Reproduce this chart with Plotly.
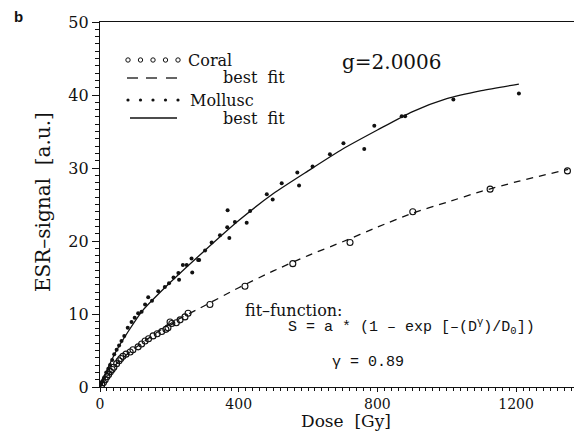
import plotly.graph_objects as go

# ---------------- data ----------------
coral_dose = [5, 10, 15, 20, 25, 30, 35, 40, 48, 55, 60, 66, 75, 87, 95, 110, 120, 130, 140,
              153, 165, 178, 190, 196, 202, 207, 220, 231, 245, 254,
              317, 418, 556, 721, 902, 1125, 1348]
coral_signal = [0.3, 0.6, 1.0, 1.4, 1.7, 2.1, 2.4, 2.7, 3.2, 3.6, 3.9, 4.2, 4.5, 4.8, 5.1, 5.5, 5.9, 6.3, 6.6,
                7.0, 7.3, 7.6, 7.9, 8.1, 8.9, 8.7, 8.8, 9.2, 9.6, 10.1,
                11.3, 13.8, 16.9, 19.8, 24.0, 27.1, 29.6]

mollusc_dose = [3, 8, 12, 18, 24, 29, 35, 41, 48, 55, 62, 70, 80, 91, 100, 110, 120, 130, 139, 150,
                168, 187, 199, 212, 226, 228, 239, 250, 264, 266, 283, 286, 303, 322, 346, 367,
                368, 373, 389, 423, 433, 481, 498, 524, 569, 574, 613, 663, 702, 762, 791, 870,
                880, 1019, 1208]
mollusc_signal = [0.3, 0.8, 1.3, 2.0, 2.5, 3.0, 3.7, 4.5, 5.1, 5.7, 6.3, 7.0, 8.1, 8.9, 9.5, 10.1, 10.3,
                  11.3, 12.3, 11.8, 13.1, 13.7, 14.2, 15.0, 15.6, 14.7, 16.7, 16.7, 17.6, 15.7, 17.4,
                  17.4, 18.7, 19.8, 20.8, 21.9, 24.2, 20.4, 22.6, 22.5, 24.1, 26.4, 25.7, 27.9, 29.4,
                  27.6, 30.2, 31.9, 33.4, 32.6, 35.8, 37.1, 37.1, 39.4, 40.2]

# best-fit curves, points
coral_fit_dose = [0, 50, 100, 200, 300, 400, 500, 600, 700, 800, 900, 1000, 1100, 1200, 1350]
coral_fit_signal = [0, 3.3, 5.3, 8.6, 11.1, 13.6, 15.9, 18.0, 19.9, 21.9, 23.8, 25.3, 26.8, 28.1, 29.8]
mollusc_fit_dose = [0, 20, 50, 120, 200, 300, 400, 500, 600, 700, 800, 900, 1000, 1100, 1208]
mollusc_fit_signal = [0, 2.3, 5.2, 10.3, 14.2, 18.6, 22.8, 26.5, 29.6, 32.6, 35.2, 37.7, 39.5, 40.6, 41.5]

x_ticks = [0, 400, 800, 1200]
y_ticks = [0, 10, 20, 30, 40, 50]

# ---------------- layout helpers ----------------
OFF = 8                      # page body margin of the html page
W, H = 582 - OFF, 433 - OFF
# plot area in page pixels
L, R, T, B = 100, 582, 22, 387


def px(x):
    return (x - L) / (R - L)


def py(y):
    return (B - y) / (B - T)


SERIF = "DejaVu Serif"
MONO = "Liberation Mono"
BLACK = "#111111"

fig = go.Figure()

fig.add_trace(go.Scatter(x=mollusc_fit_dose, y=mollusc_fit_signal, mode="lines",
                         line=dict(color=BLACK, width=1.3, shape="spline", smoothing=0.6),
                         showlegend=False))
fig.add_trace(go.Scatter(x=coral_fit_dose, y=coral_fit_signal, mode="lines",
                         line=dict(color=BLACK, width=1.3, dash="7px,6px", shape="spline", smoothing=0.6),
                         showlegend=False))
fig.add_trace(go.Scatter(x=coral_dose, y=coral_signal, mode="markers",
                         marker=dict(symbol="circle-open", size=6, color=BLACK,
                                     line=dict(width=1.1, color=BLACK)), showlegend=False))
fig.add_trace(go.Scatter(x=mollusc_dose, y=mollusc_signal, mode="markers",
                         marker=dict(symbol="circle", size=4, color=BLACK), showlegend=False))

shapes = []
# legend samples
for i in range(5):
    cx = 128 + i * 12.5
    shapes.append(dict(type="circle", xref="paper", yref="paper",
                       x0=px(cx - 2.2), x1=px(cx + 2.2), y0=py(60 + 2.2), y1=py(60 - 2.2),
                       line=dict(color=BLACK, width=1)))
    shapes.append(dict(type="circle", xref="paper", yref="paper",
                       x0=px(cx - 1.6), x1=px(cx + 1.6), y0=py(100 + 1.6), y1=py(100 - 1.6),
                       fillcolor=BLACK, line=dict(color=BLACK, width=0)))
for x0, x1 in [(127, 138), (146, 157), (166, 177)]:
    shapes.append(dict(type="line", xref="paper", yref="paper",
                       x0=px(x0), x1=px(x1), y0=py(78), y1=py(78),
                       line=dict(color=BLACK, width=1.3)))
shapes.append(dict(type="line", xref="paper", yref="paper",
                   x0=px(130), x1=px(177), y0=py(118), y1=py(118),
                   line=dict(color=BLACK, width=1.3)))


def ann(text, x, y, size, family=SERIF, xanchor="left", textangle=0, pad=1):
    return dict(text=text, xref="paper", yref="paper", x=px(x), y=py(y),
                xanchor=xanchor, yanchor="middle", showarrow=False, textangle=textangle,
                borderpad=pad,
                font=dict(family=family, size=size, color=BLACK))


annotations = [
    ann("Coral", 186, 60, 16),
    ann("best  fit", 221, 77, 16),
    ann("Mollusc", 188, 100, 16),
    ann("best  fit", 221, 118, 16),
    ann("g=2.0006", 340, 62, 20),
    ann("fit\u2013function:", 243, 310, 16),
    ann("S = a * (1 \u2013 exp [\u2013(D<sup>\u03b3</sup>)/D<sub>0</sub>])", 286, 326, 15, MONO),
    ann("\u03b3 = 0.89", 330, 362, 15, MONO),
    ann("Dose  [Gy]", 346, 421, 17, xanchor="center", pad=0),
    ann("ESR\u2013signal  [a.u.]", 43, 202, 20, xanchor="center", textangle=-90),
    dict(text="<b>b</b>", xref="paper", yref="paper", x=px(12), y=py(16),
         xanchor="left", yanchor="middle", showarrow=False,
         font=dict(family="Liberation Sans", size=15, color=BLACK)),
]

fig.update_layout(
    width=W, height=H,
    margin=dict(l=L - OFF, r=582 - R, t=T - OFF, b=433 - B, pad=0),
    paper_bgcolor="white", plot_bgcolor="white",
    shapes=shapes, annotations=annotations,
    showlegend=False,
    xaxis=dict(range=[0, 1390], tickvals=x_ticks, ticktext=[str(v) for v in x_ticks],
               automargin=False,
               showgrid=False, zeroline=False, showline=True, linecolor=BLACK, linewidth=1.3,
               mirror=True, ticks="outside", ticklen=4, tickwidth=1.2, tickcolor=BLACK,
               minor=dict(dtick=20, ticks="outside", ticklen=3, tickwidth=1, tickcolor=BLACK),
               tickfont=dict(family=SERIF, size=14, color=BLACK)),
    yaxis=dict(range=[0, 50], tickvals=y_ticks, ticktext=[str(v) for v in y_ticks],
               automargin=False,
               showgrid=False, zeroline=False, showline=True, linecolor=BLACK, linewidth=1.3,
               ticks="outside", ticklen=7, tickwidth=1.2, tickcolor=BLACK,
               minor=dict(dtick=1, ticks="outside", ticklen=4, tickwidth=1, tickcolor=BLACK),
               tickfont=dict(family=SERIF, size=16, color=BLACK)),
)

fig.write_html("out.html")
